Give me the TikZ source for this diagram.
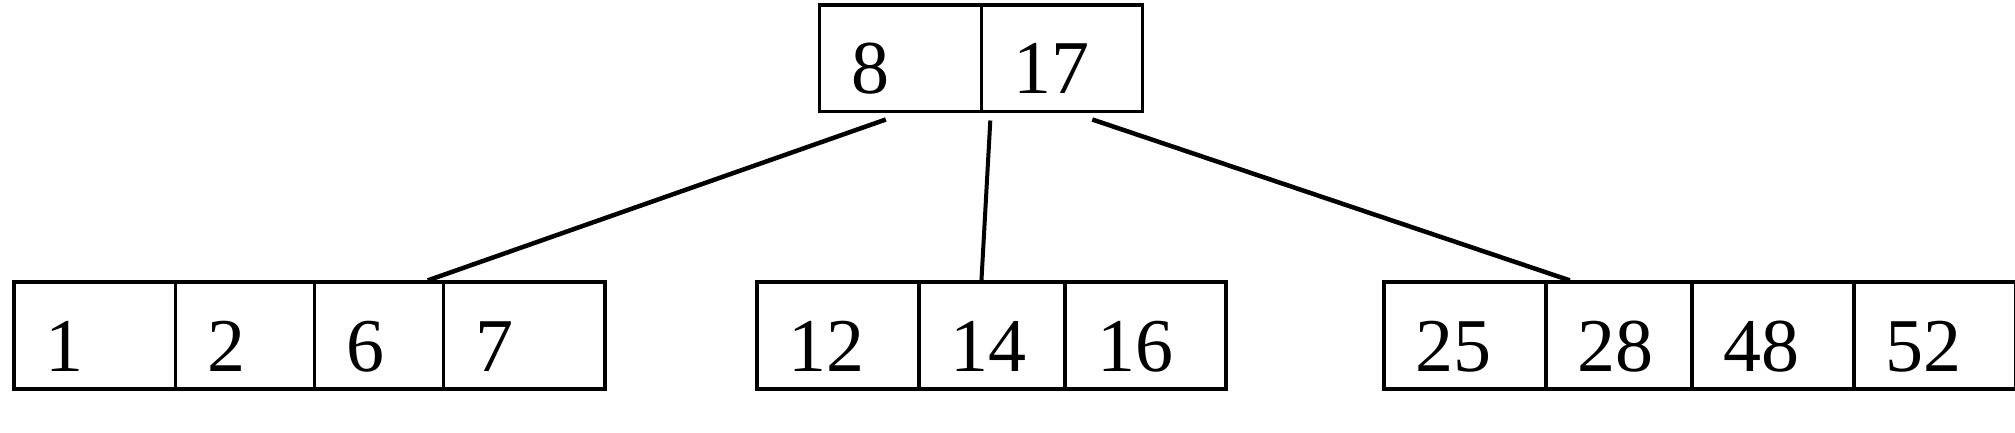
\documentclass[tikz,border=0pt]{standalone}
\usepackage{fontspec}
\setmainfont{Liberation Serif}
\begin{document}
\begin{tikzpicture}[x=1pt,y=1pt,
  cell/.style={draw, line width=3.6pt, anchor=south west, inner ysep=0pt,
    inner xsep=32pt, align=left, font=\fontsize{76}{80}\selectfont},
  lowcell/.style={cell, minimum height=107pt, text depth=18pt, text height=89pt},
  topcell/.style={cell, minimum height=106.5pt, text depth=18.5pt, text height=88pt},
  link/.style={line width=4.5pt},
  thinlink/.style={line width=4pt}]
\useasboundingbox (0,0) rectangle (2015,433);
% top node
\node[topcell, text width=98pt] (t1) at (817.5,319.5) {8};
\node[topcell, text width=97pt] (t2) at (979.5,319.5) {17};
% left node
\node[lowcell, text width=97.5pt] (l1) at (12,42) {1};
\node[lowcell, text width=75pt] (l2) at (173.5,42) {2};
\node[lowcell, text width=65pt] (l3) at (312.5,42) {6};
\node[lowcell, text width=97.5pt] (l4) at (441.5,42) {7};
% middle node
\node[lowcell, text width=98pt] (m1) at (755,42) {12};
\node[lowcell, text width=82.3pt] (m2) at (917,42) {14};
\node[lowcell, text width=97pt] (m3) at (1063.3,42) {16};
% right node
\node[lowcell, text width=98pt] (r1) at (1382,42) {25};
\node[lowcell, text width=82pt] (r2) at (1544,42) {28};
\node[lowcell, text width=98pt] (r3) at (1690,42) {48};
\node[lowcell, text width=97.5pt] (r4) at (1852,42) {52};
% connectors
\draw[link] ([xshift=-14.5pt,yshift=-6pt]t1.south) -- ([xshift=49pt]l3.north);
\draw[thinlink] ([xshift=7.2pt,yshift=-7pt]t1.south east) -- ([xshift=-10.5pt]m2.north);
\draw[link] ([xshift=30.5pt,yshift=-6pt]t2.south) -- ([xshift=-49pt]r2.north);
\end{tikzpicture}
\end{document}
